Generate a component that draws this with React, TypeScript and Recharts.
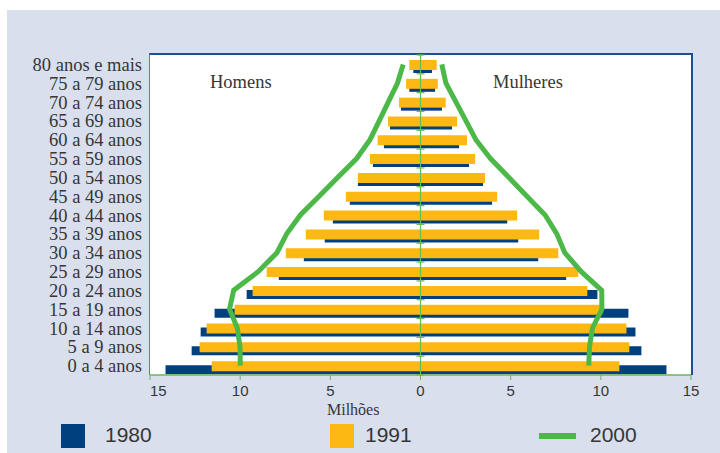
import { Bar, CartesianGrid, ComposedChart, Line, Rectangle, ReferenceLine, XAxis, YAxis } from "recharts";

const AGES = [
  "80 anos e mais",
  "75 a 79 anos",
  "70 a 74 anos",
  "65 a 69 anos",
  "60 a 64 anos",
  "55 a 59 anos",
  "50 a 54 anos",
  "45 a 49 anos",
  "40 a 44 anos",
  "35 a 39 anos",
  "30 a 34 anos",
  "25 a 29 anos",
  "20 a 24 anos",
  "15 a 19 anos",
  "10 a 14 anos",
  "5 a 9 anos",
  "0 a 4 anos",
];

// millions of people
const MEN_1980 = [0.4, 0.62, 1.08, 1.69, 2.03, 2.64, 3.47, 3.92, 4.86, 5.31, 6.47, 7.86, 9.64, 11.42, 12.19, 12.69, 14.14];
const WOMEN_1980 = [0.64, 0.81, 1.19, 1.75, 2.14, 2.69, 3.47, 3.97, 4.81, 5.42, 6.53, 8.08, 9.81, 11.53, 11.92, 12.25, 13.64];
const MEN_1991 = [0.62, 0.8, 1.19, 1.8, 2.38, 2.8, 3.47, 4.14, 5.36, 6.36, 7.47, 8.53, 9.31, 10.31, 11.86, 12.25, 11.58];
const WOMEN_1991 = [0.9, 0.96, 1.4, 2.03, 2.58, 3.03, 3.58, 4.25, 5.36, 6.58, 7.64, 8.75, 9.25, 10.08, 11.42, 11.58, 11.03];
const MEN_2000 = [0.96, 1.28, 1.79, 2.29, 2.8, 3.54, 4.58, 5.62, 6.66, 7.42, 7.96, 8.99, 10.36, 10.59, 10.16, 10.01, 9.99];
const WOMEN_2000 = [1.18, 1.41, 1.97, 2.52, 3.07, 3.88, 4.89, 5.9, 6.91, 7.56, 8.0, 8.9, 10.05, 10.06, 9.54, 9.37, 9.33];

const X_TICKS = [-15, -10, -5, 0, 5, 10, 15];

const BLUE = "#00407f";
const YELLOW = "#fdb813";
const GREEN = "#4cb848";
const INK = "#363636";
const SERIF = "'Liberation Serif', 'Times New Roman', serif";
const SANS = "'Liberation Sans', Arial, sans-serif";

const data = AGES.map((age, i) => ({
  age,
  m1980: -MEN_1980[i],
  f1980: WOMEN_1980[i],
  m1991: -MEN_1991[i],
  f1991: WOMEN_1991[i],
  m2000: -MEN_2000[i],
  f2000: WOMEN_2000[i],
}));

// 1991 sits a bit higher, 1980 peeks out underneath
const YellowBar = (props: any) => <Rectangle {...props} y={props.y + 1} />;
const BlueBar = (props: any) => <Rectangle {...props} y={props.y + 5} height={props.height - 1} />;

const XTick = ({ x, y, payload }: any) => (
  <text
    x={x}
    y={y}
    dy="0.71em"
    textAnchor={payload.value === -15 ? "start" : "middle"}
    fill={INK}
    fontSize={15}
    fontFamily={SANS}
  >
    {Math.abs(payload.value)}
  </text>
);

// centre axis with a small tick at each row boundary
const ZeroLine = (props: any) => {
  const { x1, y1, y2 } = props;
  if (x1 == null) return null;
  const n = AGES.length;
  return (
    <g>
      <line x1={x1} x2={x1} y1={y1} y2={y2} stroke="#62bd53" strokeWidth={1.2} />
      {Array.from({ length: n + 1 }, (_, i) => {
        const y = y1 + ((y2 - y1) * i) / n;
        return <line key={i} x1={x1 - 4} x2={x1 + 4} y1={y} y2={y} stroke="#62bd53" strokeWidth={1.2} />;
      })}
    </g>
  );
};

export default function App() {
  return (
    <div style={{ position: "absolute", left: 0, top: 0, width: 720, height: 453, background: "#fff" }}>
      <div style={{ position: "absolute", left: 7, top: 10, width: 713, height: 443, background: "#d9dfec" }} />
      {/* frame around the plot, the chart's white grid fills the inside */}
      <div
        style={{
          position: "absolute",
          left: 149,
          top: 53,
          width: 544,
          height: 322,
          boxSizing: "border-box",
          borderTop: "2px solid #1d4f91",
          borderRight: "2px solid #1d4f91",
          borderLeft: "1px solid #5b7fb5",
        }}
      />
      <div style={{ position: "absolute", left: 0, top: 0 }}>
        <ComposedChart
          width={720}
          height={453}
          data={data}
          layout="vertical"
          stackOffset="sign"
          barSize={10}
          barGap={-10}
          margin={{ top: 55, right: 29, left: 0, bottom: 48 }}
        >
          <CartesianGrid fill="#fff" horizontal={false} vertical={false} />
          <XAxis
            type="number"
            domain={[-15, 15]}
            ticks={X_TICKS}
            height={30}
            tickSize={5}
            tickMargin={5}
            axisLine={{ stroke: "#6db55f", strokeWidth: 1.5 }}
            tickLine={{ stroke: "#6db55f" }}
            tick={<XTick />}
          />
          <YAxis
            type="category"
            dataKey="age"
            width={150}
            interval={0}
            tickLine={false}
            axisLine={false}
            tick={{ fill: INK, fontSize: 18.5, fontFamily: SERIF }}
          />
          <Bar dataKey="m1980" stackId="y1980" fill={BLUE} shape={BlueBar} isAnimationActive={false} />
          <Bar dataKey="f1980" stackId="y1980" fill={BLUE} shape={BlueBar} isAnimationActive={false} />
          <Bar dataKey="m1991" stackId="y1991" fill={YELLOW} shape={YellowBar} isAnimationActive={false} />
          <Bar dataKey="f1991" stackId="y1991" fill={YELLOW} shape={YellowBar} isAnimationActive={false} />
          <ReferenceLine x={0} shape={ZeroLine} />
          <Line dataKey="m2000" type="linear" stroke={GREEN} strokeWidth={5} dot={false} isAnimationActive={false} />
          <Line dataKey="f2000" type="linear" stroke={GREEN} strokeWidth={5} dot={false} isAnimationActive={false} />
        </ComposedChart>
      </div>
      <svg width={720} height={453} style={{ position: "absolute", left: 0, top: 0, pointerEvents: "none" }}>
        <text x={210} y={88} fontSize={18.5} fontFamily={SERIF} fill={INK}>Homens</text>
        <text x={493} y={88} fontSize={18.5} fontFamily={SERIF} fill={INK}>Mulheres</text>
        <text x={327} y={415} fontSize={16} fontFamily={SERIF} fill={INK}>Milhões</text>
        <rect x={61} y={424} width={24} height={24} fill={BLUE} />
        <text x={105} y={442} fontSize={21} fontFamily={SANS} fill={INK}>1980</text>
        <rect x={330} y={424} width={24} height={24} fill={YELLOW} />
        <text x={365} y={442} fontSize={21} fontFamily={SANS} fill={INK}>1991</text>
        <line x1={539} x2={576} y1={436} y2={436} stroke={GREEN} strokeWidth={6} />
        <text x={590} y={442} fontSize={21} fontFamily={SANS} fill={INK}>2000</text>
      </svg>
    </div>
  );
}
